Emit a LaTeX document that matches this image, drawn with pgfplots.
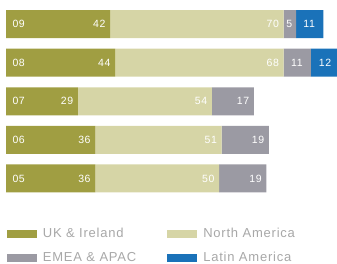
\documentclass[border=0pt]{standalone}
\usepackage{pgfplots}
\pgfplotsset{compat=1.18}
\usepackage{pgfplotstable}
\usepackage{fontspec}
\setmainfont{Liberation Sans}
\newfontfamily\legfont[LetterSpace=6]{Liberation Sans}
\newfontfamily\numfont[LetterSpace=6]{Liberation Sans}
\definecolor{ukc}{HTML}{A09E42}
\definecolor{nac}{HTML}{D6D5A6}
\definecolor{emc}{HTML}{9B9AA3}
\definecolor{lac}{HTML}{1A72B9}
\definecolor{legtext}{HTML}{A8A8A8}
\pgfplotstableread{
y uk na em la
0 36 50 19 0
1 36 51 19 0
2 29 54 17 0
3 44 68 11 12
4 42 70 5 11
}\data
\begin{document}
\begin{tikzpicture}
\useasboundingbox (0,0) rectangle (337pt,264pt);
\begin{axis}[
  at={(0,0)}, anchor=south west,
  scale only axis, width=337pt, height=264pt,
  xmin=-2.42, xmax=133.5, ymin=-2.215, ymax=4.624,
  xbar stacked, bar width=28pt,
  axis on top,
  axis line style={draw=none}, tick style={draw=none},
  ytick={0,1,2,3,4}, yticklabels={05,06,07,08,09},
  yticklabel style={anchor=west, xshift=9pt, text=white, font=\numfont\fontsize{10.5}{10}\selectfont},
  xtick=\empty,
  clip=false,
  /pgf/number format/assume math mode=true,
  point meta=explicit,
  nodes near coords,
  visualization depends on={\thisrow{\segcol} \as \segval},
  nodes near coords style={anchor=east, inner sep=1pt, text=white, font=\numfont\fontsize{10.5}{10}\selectfont,
     xshift={(\segval<8 ? 3.5 : (\segval<15 ? 6.5 : \segval*1.24-3.5))*1pt}},
  every axis plot/.append style={draw=none},
  legend style={draw=none, at={(axis cs:-0.93,-1.18)}, anchor=north west,
     font=\legfont\fontsize{13}{13}\selectfont, text=legtext, legend cell align=left,
     row sep=9pt, /tikz/every even column/.append style={column sep=29pt},
     /tikz/every odd column/.append style={column sep=4pt}},
  legend columns=2,
  legend image code/.code={\fill[#1] (0pt,-4pt) rectangle (30pt,4pt);},
]
\def\segcol{uk}
\addplot[fill=ukc] table[x=uk, y=y, meta=uk] {\data};
\def\segcol{na}
\addplot[fill=nac] table[x=na, y=y, meta=na] {\data};
\def\segcol{em}
\addplot[fill=emc] table[x=em, y=y, meta=em] {\data};
\def\segcol{la}
\addplot[fill=lac, nodes near coords={\pgfmathfloattofixed{\pgfplotspointmeta}\ifdim\pgfmathresult pt>0pt \pgfmathprintnumber{\pgfplotspointmeta}\fi}] table[x=la, y=y, meta=la] {\data};
\legend{UK \& Ireland, North America, EMEA \& APAC, Latin America}
\end{axis}
\end{tikzpicture}
\end{document}
